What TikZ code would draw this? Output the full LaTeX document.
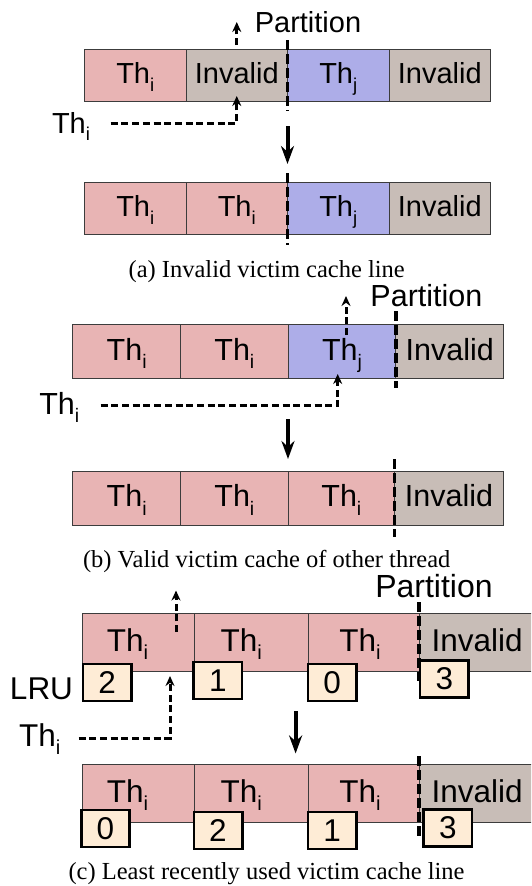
\documentclass[tikz,border=0pt]{standalone}
\usepackage{fontspec}
\setmainfont{Liberation Sans}
\newfontfamily\capfont{Liberation Serif}
\usepackage{graphicx}
\usetikzlibrary{arrows.meta}
\definecolor{pinkc}{RGB}{232,180,180}
\definecolor{bluec}{RGB}{173,173,232}
\definecolor{greyc}{RGB}{200,189,183}
\definecolor{creamc}{RGB}{254,236,214}
\definecolor{edgec}{RGB}{60,60,60}
\newcommand{\Ths}[1]{Th\raisebox{-0.27em}{\scalebox{0.64}{#1}}}
\tikzset{
  cellbox/.style={draw=edgec, line width=1pt, inner sep=0pt, outer sep=0pt},
  pa/.style={font=\fontsize{29}{29}\selectfont, text height=21.7pt, text depth=4.9pt},
  pb/.style={font=\fontsize{30.5}{30.5}\selectfont, text height=22.9pt, text depth=5.2pt},
  pc/.style={font=\fontsize{31.5}{31.5}\selectfont},
  thi/.style={cellbox, fill=pinkc},
  thj/.style={cellbox, fill=bluec},
  inv/.style={cellbox, fill=greyc},
  wa/.style={minimum width=101.5pt, minimum height=52pt},
  wb/.style={minimum width=107.7pt, minimum height=54pt},
  txt/.style={inner sep=0pt, anchor=base},
  captxt/.style={inner sep=0pt, anchor=base, font=\capfont\fontsize{24.5}{24.5}\selectfont},
  partline/.style={line width=3.8pt, dash pattern=on 10pt off 4pt},
  dasharr/.style={line width=3pt, dash pattern=on 7pt off 3.7pt, -{Stealth[length=10pt,width=9pt]}},
  bigarr/.style={line width=4pt, -{Stealth[length=18pt,width=13pt]}},
  lrubox/.style={draw=black, line width=2.6pt, fill=creamc, inner sep=0pt,
    minimum width=48.4pt, minimum height=37pt, font=\fontsize{31.5}{31.5}\selectfont},
}
\begin{document}
\begin{tikzpicture}[x=1pt,y=-1pt]
\path[use as bounding box] (0,0) rectangle (531,886);
\clip (0,0) rectangle (531,886);
\fill[white] (0,0) rectangle (531,886);

% ---------------- (a) ----------------
\node[txt, pa] (parta) at (308,32) {Partition};
\node[thi, pa, wa] (a1) at (135.25,75) {\Ths{i}};
\node[inv, pa, wa] (a2) at (236.75,75) {Invalid};
\node[thj, pa, wa] (a3) at (338.25,75) {\Ths{j}};
\node[inv, pa, wa] (a4) at (439.75,75) {Invalid};
\node[thi, pa, wa] (a5) at (135.25,208) {\Ths{i}};
\node[thi, pa, wa] (a6) at (236.75,208) {\Ths{i}};
\node[thj, pa, wa] (a7) at (338.25,208) {\Ths{j}};
\node[inv, pa, wa] (a8) at (439.75,208) {Invalid};
\node[txt, pa] (thia) at (71,133) {\Ths{i}};
\coordinate (pa1) at (287.5,40);
\coordinate (pa2) at (287.5,111);
\coordinate (pa3) at (287.5,173);
\coordinate (pa4) at (287.5,245);
\draw[partline] (pa1) -- (pa2);
\draw[partline] (pa3) -- (pa4);
\coordinate (ua) at (236.75,22);
\draw[dasharr] ([yshift=4pt]a2.north) -- (ua);
\coordinate (sa) at (110.7,123.5);
\draw[dasharr] (sa) -| ([yshift=5pt]a2.south);
\coordinate (da1) at (287.5,126);
\coordinate (da2) at (287.5,164);
\draw[bigarr] (da1) -- (da2);
\node[captxt] (capa) at (266.7,277.5) {(a) Invalid victim cache line};

% ---------------- (b) ----------------
\node[txt, pb] (partb) at (426.4,306) {Partition};
\node[thi, pb, wb] (b1) at (126.65,351.5) {\Ths{i}};
\node[thi, pb, wb] (b2) at (234.35,351.5) {\Ths{i}};
\node[thj, pb, wb] (b3) at (342.05,351.5) {\Ths{j}};
\node[inv, pb, wb] (b4) at (449.75,351.5) {Invalid};
\node[thi, pb, wb] (b5) at (126.65,498) {\Ths{i}};
\node[thi, pb, wb] (b6) at (234.35,498) {\Ths{i}};
\node[thi, pb, wb, minimum width=106.3pt] (b7) at (341.35,498) {\Ths{i}};
\node[inv, pb, wb, minimum width=109.1pt] (b8) at (449.05,498) {Invalid};
\node[txt, pb] (thib) at (59.3,414.5) {\Ths{i}};
\coordinate (pb1) at (396,311);
\coordinate (pb2) at (396,387.5);
\coordinate (pb3) at (394.5,459);
\coordinate (pb4) at (394.5,536.5);
\draw[partline] (pb1) -- (pb2);
\draw[partline] (pb3) -- (pb4);
\coordinate (ub0) at (346,335);
\coordinate (ub) at (346,296);
\draw[dasharr] (ub0) -- (ub);
\coordinate (sb) at (100.6,405.5);
\coordinate (eb) at (337.7,374);
\draw[dasharr] (sb) -| (eb);
\coordinate (db1) at (288,419);
\coordinate (db2) at (288,459);
\draw[bigarr] (db1) -- (db2);
\node[captxt] (capb) at (266.7,567.5) {(b) Valid victim cache of other thread};

% ---------------- (c) ----------------
\node[txt, pc, font=\fontsize{32}{32}\selectfont] (partc) at (434,597) {Partition};
\node[thi, minimum width=112.2pt, minimum height=57.5pt] (c1) at (138.4,642.3) {};
\node[thi, minimum width=113.7pt, minimum height=57.5pt] (c2) at (251.35,642.3) {};
\node[thi, minimum width=110.8pt, minimum height=57.5pt] (c3) at (363.6,642.3) {};
\node[inv, minimum width=126pt, minimum height=57.5pt] (c4) at (482,642.3) {};
\node[thi, minimum width=112.2pt, minimum height=57.5pt] (c5) at (138.4,793.3) {};
\node[thi, minimum width=113.7pt, minimum height=57.5pt] (c6) at (251.35,793.3) {};
\node[thi, minimum width=110.8pt, minimum height=57.5pt] (c7) at (363.6,793.3) {};
\node[inv, minimum width=126pt, minimum height=57.5pt] (c8) at (482,793.3) {};
\node[txt, pc] (lc1) at (127.5,651) {\Ths{i}};
\node[txt, pc] (lc2) at (241.3,651) {\Ths{i}};
\node[txt, pc] (lc3) at (359.9,651) {\Ths{i}};
\node[txt, pc] (lc4) at (477.2,651) {Invalid};
\node[txt, pc] (lc5) at (127.5,802) {\Ths{i}};
\node[txt, pc] (lc6) at (241.3,802) {\Ths{i}};
\node[txt, pc] (lc7) at (359.9,802) {\Ths{i}};
\node[txt, pc] (lc8) at (477.2,802) {Invalid};
\coordinate (pc1) at (419,602);
\coordinate (pc2) at (419,681);
\coordinate (pc3) at (419.3,756);
\coordinate (pc4) at (419.3,836);
\draw[partline] (pc1) -- (pc2);
\draw[partline] (pc3) -- (pc4);
\node[lrubox] (r1) at (107.2,682.5) {2};
\node[lrubox] (r2) at (217.8,680.5) {1};
\node[lrubox] (r3) at (332.2,682.5) {0};
\node[lrubox] (r4) at (444.3,679) {3};
\node[lrubox] (r5) at (105.5,828.6) {0};
\node[lrubox] (r6) at (218,830.3) {2};
\node[lrubox] (r7) at (332.2,830.3) {1};
\node[lrubox] (r8) at (447.8,828) {3};
\node[txt, pc] (lru) at (41.5,699.5) {LRU};
\node[txt, pc] (thic) at (39.8,746) {\Ths{i}};
\coordinate (uc0) at (176,632);
\coordinate (uc) at (176,590.5);
\draw[dasharr] (uc0) -- (uc);
\coordinate (sc) at (78.6,738.5);
\coordinate (ec) at (170,676);
\draw[dasharr] (sc) -| (ec);
\coordinate (dc1) at (295.6,711);
\coordinate (dc2) at (295.6,753.5);
\draw[bigarr] (dc1) -- (dc2);
\node[captxt] (capc) at (266.5,879) {(c) Least recently used victim cache line};
\end{tikzpicture}
\end{document}
